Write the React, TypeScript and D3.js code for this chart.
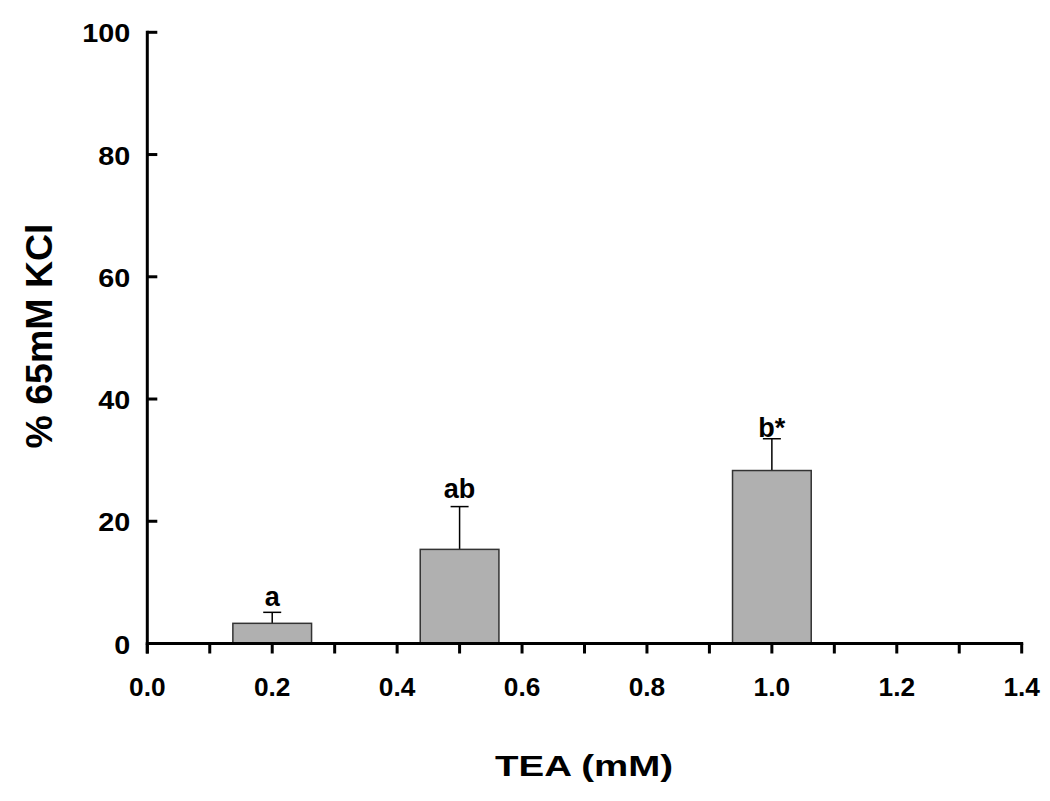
import React from "react";
import * as d3 from "d3";

const concentrations = [0.2, 0.5, 1.0];
const means = [3.3, 15.4, 28.3];
const sems = [1.8, 7.0, 5.2];
const sigLabels = ["a", "ab", "b*"];
const labelDy = [6, 9, 2];
const xTicks = [0.0, 0.2, 0.4, 0.6, 0.8, 1.0, 1.2, 1.4];
const xMinorTicks = [0.1, 0.3, 0.5, 0.7, 0.9, 1.1, 1.3];
const yTicks = [0, 20, 40, 60, 80, 100];
const barWidth = 0.126;

const W = 1050;
const H = 801;
const left = 147.3;
const right = 1021.7;
const top = 32.3;
const bottom = 643.5;
const font = "'Liberation Sans', Arial, Helvetica, sans-serif";
const digitW = 16; // px per digit in tick labels
const dotW = 4.5;

function labelLen(s: string) {
  let w = 0;
  for (const ch of s) w += ch === "." ? dotW : digitW;
  return w;
}

export default function App() {
  const x = d3.scaleLinear().domain([0, 1.4]).range([left, right]);
  const y = d3.scaleLinear().domain([0, 100]).range([bottom, top]);
  const allX = [...xTicks, ...xMinorTicks];
  return (
    <svg width={W} height={H} style={{ position: "absolute", left: 0, top: 0, background: "#fff" }} fontFamily={font}>
      {/* bars */}
      {concentrations.map((c, i) => (
        <g key={i}>
          <line x1={x(c)} x2={x(c)} y1={y(means[i])} y2={y(means[i] + sems[i])} stroke="#000" strokeWidth={1.5} />
          <line x1={x(c) - 9} x2={x(c) + 9} y1={y(means[i] + sems[i])} y2={y(means[i] + sems[i])} stroke="#000" strokeWidth={1.5} />
          <rect x={x(c - barWidth / 2)} y={y(means[i])} width={x(c + barWidth / 2) - x(c - barWidth / 2)} height={y(0) - y(means[i])} fill="#b0b0b0" stroke="#333" strokeWidth={1.5} />
          <text x={x(c)} y={y(means[i] + sems[i]) - labelDy[i]} textAnchor="middle" fontSize={27} fontWeight="bold">{sigLabels[i]}</text>
        </g>
      ))}
      {/* y axis */}
      <line x1={left} x2={left} y1={top - 1.5} y2={bottom + 10} stroke="#000" strokeWidth={3} />
      {yTicks.map((t) => (
        <g key={"y" + t}>
          <line x1={left} x2={left + 10} y1={y(t)} y2={y(t)} stroke="#000" strokeWidth={3} />
          <text x={left - 17} y={y(t) + 10} textAnchor="end" fontSize={26} fontWeight="bold" textLength={labelLen(String(t))} lengthAdjust="spacingAndGlyphs">{t}</text>
        </g>
      ))}
      {/* x axis */}
      <line x1={left - 1.5} x2={right + 1.5} y1={bottom} y2={bottom} stroke="#000" strokeWidth={3} />
      {allX.map((t) => (
        <line key={"xt" + t} x1={x(t)} x2={x(t)} y1={bottom} y2={bottom + 10} stroke="#000" strokeWidth={3} />
      ))}
      {xTicks.map((t) => (
        <text key={"xl" + t} x={x(t)} y={696} textAnchor="middle" fontSize={26} fontWeight="bold" textLength={labelLen(t.toFixed(1))} lengthAdjust="spacingAndGlyphs">{t.toFixed(1)}</text>
      ))}
      {/* titles */}
      <text transform="translate(52,336) rotate(-90)" textAnchor="middle" fontSize={37} fontWeight="bold" textLength={225} lengthAdjust="spacingAndGlyphs">% 65mM KCl</text>
      <text x={584} y={776} textAnchor="middle" fontSize={30} fontWeight="bold" textLength={178} lengthAdjust="spacingAndGlyphs">TEA (mM)</text>
    </svg>
  );
}
